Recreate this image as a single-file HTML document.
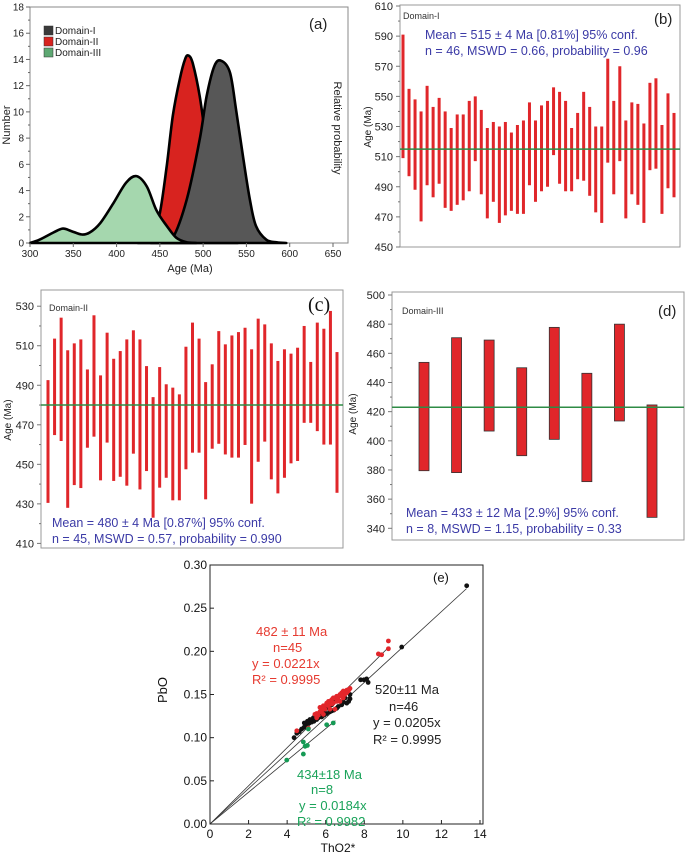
<!DOCTYPE html>
<html><head><meta charset="utf-8"><style>
html,body{margin:0;padding:0;background:#fff;}
svg{display:block;font-family:"Liberation Sans",sans-serif;}
</style></head>
<body>
<svg id="fig" width="685" height="858" viewBox="0 0 685 858" xmlns="http://www.w3.org/2000/svg">
<g id="pa"></g>
<g id="pb"></g>
<g id="pc"></g>
<g id="pd"></g>
<g id="pe"></g>
</svg>
<script>
// ---------- DATA ----------
const aDomain1 = [[440,0],[452,0.1],[465,0.4],[481,3.3],[496,7.9],[504,11.2],[513,13.5],[521,13.9],[531,13],[538,10.2],[546,6.6],[554,3.3],[561,1.3],[573,0.25],[585,0.05],[596,0]];
const aDomain2 = [[425,0],[435,0.2],[442,0.8],[450,2.3],[458,5.9],[465,9.7],[473,12.5],[479,14],[483,14.3],[488,13.7],[496,11.2],[504,7.5],[512,4.2],[520,1.8],[530,0.4],[540,0]];
const aDomain3 = [[300,0],[311,0.25],[327,0.8],[338,1.1],[348,0.9],[360,0.65],[369,0.8],[381,1.5],[396,3.0],[411,4.6],[423,5.1],[435,4.3],[446,2.5],[458,1.3],[469,0.4],[481,0.05],[492,0]];
const aXTicks = [300,350,400,450,500,550,600,650];
const aYTicks = [0,2,4,6,8,10,12,14,16,18];
const bTop = [591,555,548,540,557,543,549,540,529,538,538,547,550,541,529,533,530,533,526,531,534,546,534,544,547,556,553,547,529,539,553,543,530,530,575,547,570,534,546,545,532,559,562,531,552,539];
const bBot = [509,497,488,467,491,483,492,476,474,478,481,487,507,485,469,480,466,471,474,472,472,491,480,487,490,511,492,487,487,495,494,484,473,466,506,485,507,469,485,478,466,501,502,472,489,483];
const bMean = 515;
const bYTicks = [450,470,490,510,530,550,570,590,610];
const cTop = [492.6,513.6,524.2,507.7,511.2,513.2,498,525.4,495,516.6,503.4,507.3,513.2,517.8,513.2,499.7,484,499.2,490.5,488.8,485.4,509.5,521.7,513.6,491.6,500.6,517.4,510.7,515.2,516.9,519.1,508.2,523.7,520.8,511.2,502.3,508.2,506,509,520,501.8,521.7,518.6,527.6,506.8];
const cBot = [430.5,464.8,461.8,428,439.5,438,458.4,464,441.9,461,441.6,443.7,439.2,455.4,437.3,446.6,423,438.2,443.2,431.8,431.8,447.5,455.9,455.9,432.3,457.9,460.4,455,453.4,453.4,459.8,430.1,451.3,461.5,442.4,435.3,443.2,450.5,451.7,471,471,466.8,460,460,435.6];
const cMean = 480;
const cYTicks = [410,430,450,470,490,510,530];
const dTop = [453.8,470.7,469.1,450.1,477.8,446.3,480,424.6];
const dBot = [379.5,378.2,406.7,389.8,401,372,413.6,347.5];
const dMean = 423;
const dYTicks = [340,360,380,400,420,440,460,480,500];
const eBlack = [[13.31,0.276],[9.94,0.205],[7.81,0.167],[7.98,0.167],[8.12,0.168],[8.2,0.164],[7.26,0.145],[7.19,0.142],[7.09,0.140],[6.91,0.141],[6.83,0.138],[6.65,0.136],[6.57,0.134],[6.43,0.132],[6.31,0.131],[6.22,0.130],[6.05,0.128],[5.91,0.126],[5.79,0.124],[5.62,0.123],[5.53,0.121],[5.39,0.119],[5.27,0.118],[5.15,0.117],[5.01,0.115],[4.88,0.112],[4.75,0.110],[4.63,0.107],[4.5,0.105],[4.36,0.100],[6.31,0.138],[6.48,0.142],[6.05,0.134],[5.88,0.131],[5.70,0.128],[5.53,0.125],[5.36,0.123],[5.18,0.121],[5.05,0.119],[4.89,0.117],[5.88,0.136],[6.14,0.140],[6.57,0.144],[7.0,0.146],[6.74,0.142],[7.26,0.150]];
const eGreen = [[3.98,0.074],[4.84,0.095],[4.84,0.081],[4.93,0.090],[5.05,0.091],[5.1,0.110],[6.05,0.115],[6.39,0.117]];
const eRed = [[4.5,0.108],[5.1,0.111],[5.44,0.127],[5.62,0.126],[5.79,0.131],[5.88,0.137],[6.05,0.138],[6.22,0.142],[6.31,0.144],[6.48,0.146],[6.57,0.148],[6.74,0.15],[6.83,0.152],[6.91,0.154],[7.09,0.155],[7.26,0.157],[5.70,0.135],[5.96,0.133],[6.14,0.137],[6.39,0.140],[6.65,0.144],[6.99,0.150],[7.17,0.154],[6.22,0.133],[5.88,0.127],[5.53,0.123],[6.48,0.133],[6.74,0.142],[5.53,0.128],[8.73,0.197],[8.9,0.196],[9.25,0.212],[9.25,0.203],[6.05,0.140],[6.31,0.139],[6.91,0.146],[6.57,0.142],[5.88,0.134],[5.70,0.130],[6.14,0.142],[6.39,0.146],[6.65,0.147],[6.83,0.148],[7.09,0.152],[7.22,0.156]];
const eSlopes = [0.0221,0.0205,0.0184];
const eLineEnds = [9.3,13.3,6.5];
const eXTicks = [0,2,4,6,8,10,12,14];
const eYTicks = [0,0.05,0.10,0.15,0.20,0.25,0.30];

// ---------- helpers ----------
const NS='http://www.w3.org/2000/svg';
function mk(parent,tag,attrs,text){const e=document.createElementNS(NS,tag);for(const k in attrs)e.setAttribute(k,attrs[k]);if(text!==undefined)e.textContent=text;parent.appendChild(e);return e;}
function lin(d0,d1,r0,r1){return v=>r0+(v-d0)*(r1-r0)/(d1-d0);}
function T(g,name,attrs,s){const t=mk(g,'text',attrs,s);return t;}
const BLUE='#3b3aa6', RED='#e0262a', GREEN='#2e8b45';

// ---------- Panel (a) ----------
(function(){
const g=document.getElementById('pa');
const X=lin(300,650,30,333), Y=lin(0,18,243,7);
let f=mk(g,'rect',{x:30,y:7,width:318,height:236,fill:'#fff',stroke:'#888','stroke-width':1});

function area(data,fill,name){
  const P=data.map(p=>[X(p[0]),Y(p[1])]);
  let d='M'+P[0][0].toFixed(1)+','+Y(0).toFixed(1)+' L'+P[0][0].toFixed(1)+','+P[0][1].toFixed(1);
  for(let i=0;i<P.length-1;i++){
    const p0=P[Math.max(0,i-1)],p1=P[i],p2=P[i+1],p3=P[Math.min(P.length-1,i+2)];
    let c1y=p1[1]+(p2[1]-p0[1])/6, c2y=p2[1]-(p3[1]-p1[1])/6;
    c1y=Math.min(c1y,Y(0)); c2y=Math.min(c2y,Y(0));
    const c1=[p1[0]+(p2[0]-p0[0])/6,c1y], c2=[p2[0]-(p3[0]-p1[0])/6,c2y];
    d+=' C'+c1[0].toFixed(1)+','+c1[1].toFixed(1)+' '+c2[0].toFixed(1)+','+c2[1].toFixed(1)+' '+p2[0].toFixed(1)+','+p2[1].toFixed(1);
  }
  d+=' L'+P[P.length-1][0].toFixed(1)+','+Y(0)+' Z';
  const p=mk(g,'path',{d:d,fill:fill,stroke:'#000','stroke-width':2.6,'stroke-linejoin':'round'});
  
}
area(aDomain2,'#d8231f','curve-domain-ii');
area(aDomain1,'#575757','curve-domain-i');
area(aDomain3,'#a5d7ae','curve-domain-iii');
aYTicks.forEach(v=>{
  mk(g,'line',{x1:26,x2:30,y1:Y(v),y2:Y(v),stroke:'#666'});
  if(v<18) mk(g,'line',{x1:28,x2:30,y1:Y(v+1),y2:Y(v+1),stroke:'#666'});
  T(g,'y-tick-label',{x:24,y:Y(v)+3.5,'font-size':10,'text-anchor':'end',fill:'#222'},v);
});
aXTicks.forEach(v=>{
  mk(g,'line',{x1:X(v),x2:X(v),y1:243,y2:247,stroke:'#666'});
  T(g,'x-tick-label',{x:X(v),y:257,'font-size':10,'text-anchor':'middle',fill:'#222'},v);
});
T(g,'x-axis-title',{x:190,y:272,'font-size':11,'text-anchor':'middle',fill:'#222'},'Age (Ma)');
T(g,'y-axis-title',{x:10,y:125,'font-size':11,'text-anchor':'middle',fill:'#222',transform:'rotate(-90 10 125)'},'Number');
T(g,'right-axis-title',{x:334,y:128,'font-size':11,'text-anchor':'middle',fill:'#222',transform:'rotate(90 334 128)'},'Relative probability');
T(g,'panel-label',{x:309,y:29,'font-size':15,fill:'#222'},'(a)');
const leg=[['#3a3a3a','Domain-I'],['#d8231f','Domain-II'],['#5ea873','Domain-III']];
leg.forEach((l,i)=>{
  const r=mk(g,'rect',{x:44,y:26+i*11,width:9,height:9,fill:l[0],stroke:'#333','stroke-width':0.5});
  
  T(g,'legend-entry',{x:55,y:34+i*11,'font-size':10,fill:'#222'},l[1]);
});
})();

// ---------- bar panels ----------
function barPanel(id,frame,yDom,yRng,ticks,tops,bots,mean,x0,x1,bw,boxed,txt){
  const g=document.getElementById(id);
  const Y=lin(yDom[0],yDom[1],yRng[0],yRng[1]);
  const fr=mk(g,'rect',{x:frame[0],y:frame[1],width:frame[2],height:frame[3],fill:'#fff',stroke:'#999','stroke-width':1});
  
  const n=tops.length, step=n>1?(x1-x0)/(n-1):0;
  for(let i=0;i<n;i++){
    const cx=x0+i*step;
    const r=mk(g,'rect',{x:cx-bw/2,y:Y(tops[i]),width:bw,height:Y(bots[i])-Y(tops[i]),fill:RED,stroke:boxed?'#333':'none','stroke-width':boxed?0.8:0});
    
  }
  const ml=mk(g,'line',{x1:frame[0],x2:frame[0]+frame[2],y1:Y(mean),y2:Y(mean),stroke:GREEN,'stroke-width':1.5});
  
  ticks.forEach((v,i)=>{
    mk(g,'line',{x1:frame[0]-4,x2:frame[0],y1:Y(v),y2:Y(v),stroke:'#777'});
    if(i<ticks.length-1){const m=(v+ticks[i+1])/2;mk(g,'line',{x1:frame[0]-2,x2:frame[0],y1:Y(m),y2:Y(m),stroke:'#777'});}
    T(g,'y-tick-label',{x:frame[0]-7,y:Y(v)+4,'font-size':11,'text-anchor':'end',fill:'#222'},v);
  });
  txt(g);
}

barPanel('pb',[400,5,280,242],[450,610],[247,6],bYTicks,bTop,bBot,bMean,403,674,3,false,g=>{
  T(g,'domain-label',{x:403,y:19,'font-size':9,fill:'#333'},'Domain-I');
  T(g,'panel-label',{x:654,y:24,'font-size':15,fill:'#222'},'(b)');
  T(g,'stats-line-1',{x:425,y:39,'font-size':12.5,fill:BLUE},'Mean = 515 ± 4 Ma [0.81%] 95% conf.');
  T(g,'stats-line-2',{x:425,y:55,'font-size':12.5,fill:BLUE},'n = 46, MSWD = 0.66, probability = 0.96');
  T(g,'y-axis-title',{x:371,y:127,'font-size':10,'text-anchor':'middle',fill:'#222',transform:'rotate(-90 371 127)'},'Age (Ma)');
});
barPanel('pc',[41,290,302,258],[410,530],[543.4,306.2],cYTicks,cTop,cBot,cMean,48,337,3,false,g=>{
  T(g,'domain-label',{x:49,y:311,'font-size':9,fill:'#333'},'Domain-II');
  T(g,'panel-label',{x:308,y:311,'font-size':20,'font-family':'Liberation Serif, serif',fill:'#111'},'(c)');
  T(g,'stats-line-1',{x:52,y:527,'font-size':12.5,fill:BLUE},'Mean = 480 ± 4 Ma [0.87%] 95% conf.');
  T(g,'stats-line-2',{x:52,y:543,'font-size':12.5,fill:BLUE},'n = 45, MSWD = 0.57, probability = 0.990');
  T(g,'y-axis-title',{x:11,y:420,'font-size':10,'text-anchor':'middle',fill:'#222',transform:'rotate(-90 11 420)'},'Age (Ma)');
});
barPanel('pd',[392,292,292,248],[340,500],[528.3,295],dYTicks,dTop,dBot,dMean,424,652,10,true,g=>{
  T(g,'domain-label',{x:402,y:314,'font-size':9,fill:'#333'},'Domain-III');
  T(g,'panel-label',{x:658,y:316,'font-size':15,fill:'#222'},'(d)');
  T(g,'stats-line-1',{x:406,y:517,'font-size':12.5,fill:BLUE},'Mean = 433 ± 12 Ma [2.9%] 95% conf.');
  T(g,'stats-line-2',{x:406,y:533,'font-size':12.5,fill:BLUE},'n = 8, MSWD = 1.15, probability = 0.33');
  T(g,'y-axis-title',{x:356,y:414,'font-size':10,'text-anchor':'middle',fill:'#222',transform:'rotate(-90 356 414)'},'Age (Ma)');
});

// ---------- Panel (e) ----------
(function(){
const g=document.getElementById('pe');
const X=lin(0,14,210,480), Y=lin(0,0.30,824,565);
const fr=mk(g,'rect',{x:210,y:565,width:273,height:259,fill:'#fff',stroke:'#222','stroke-width':1});

eSlopes.forEach((s,i)=>{
  const l=mk(g,'line',{x1:X(0),y1:Y(0),x2:X(eLineEnds[i]),y2:Y(s*eLineEnds[i]),stroke:'#333','stroke-width':0.8});
  
});
function pts(data,col,name){data.forEach(p=>{const c=mk(g,'circle',{cx:X(p[0]),cy:Y(p[1]),r:2.4,fill:col});});}
pts(eBlack,'#111','point-domain-i');
pts(eRed,'#e2262b','point-domain-ii');
pts(eGreen,'#169a55','point-domain-iii');
eXTicks.forEach(v=>{
  mk(g,'line',{x1:X(v),x2:X(v),y1:824,y2:820,stroke:'#222'});
  T(g,'x-tick-label',{x:X(v),y:838,'font-size':12,'text-anchor':'middle',fill:'#111'},v);
});
eYTicks.forEach(v=>{
  mk(g,'line',{x1:210,x2:214,y1:Y(v),y2:Y(v),stroke:'#222'});
  T(g,'y-tick-label',{x:207,y:Y(v)+4,'font-size':12,'text-anchor':'end',fill:'#111'},v.toFixed(2));
});
T(g,'x-axis-title',{x:338,y:852,'font-size':12,'text-anchor':'middle',fill:'#111'},'ThO2*');
T(g,'y-axis-title',{x:167,y:690,'font-size':13,'text-anchor':'middle',fill:'#111',transform:'rotate(-90 167 690)'},'PbO');
T(g,'panel-label',{x:433,y:582,'font-size':13,fill:'#111'},'(e)');
const R='#e63a30',K='#222',G='#1aa35a';
T(g,'label-domain-ii-age',{x:256,y:636,'font-size':13,fill:R},'482 ± 11 Ma');
T(g,'label-domain-ii-n',{x:273,y:652,'font-size':13,fill:R},'n=45');
T(g,'label-domain-ii-eq',{x:252,y:668,'font-size':13,fill:R},'y = 0.0221x');
T(g,'label-domain-ii-r2',{x:252,y:684,'font-size':13,fill:R},'R² = 0.9995');
T(g,'label-domain-i-age',{x:375,y:694,'font-size':13,fill:K},'520±11 Ma');
T(g,'label-domain-i-n',{x:389,y:711,'font-size':13,fill:K},'n=46');
T(g,'label-domain-i-eq',{x:373,y:727,'font-size':13,fill:K},'y = 0.0205x');
T(g,'label-domain-i-r2',{x:373,y:744,'font-size':13,fill:K},'R² = 0.9995');
T(g,'label-domain-iii-age',{x:297,y:779,'font-size':13,fill:G},'434±18 Ma');
T(g,'label-domain-iii-n',{x:311,y:794,'font-size':13,fill:G},'n=8');
T(g,'label-domain-iii-eq',{x:299,y:810,'font-size':13,fill:G},'y = 0.0184x');
T(g,'label-domain-iii-r2',{x:297,y:826,'font-size':13,fill:G},'R² = 0.9982');
})();
</script>
</body></html>
